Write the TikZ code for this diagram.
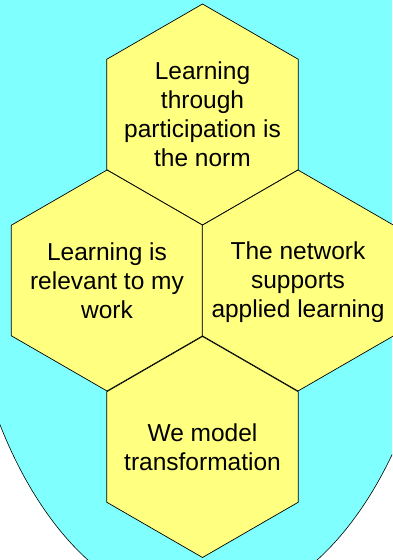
\documentclass[tikz,border=0pt]{standalone}
\usepackage{fontspec}
\setmainfont{Liberation Sans}
\usetikzlibrary{shapes.geometric}
\definecolor{bgcyan}{HTML}{80FFFF}
\definecolor{hexyellow}{HTML}{FFFF80}
\tikzset{
  hexcell/.style={regular polygon, regular polygon sides=6, shape border rotate=30,
    minimum size=221pt, inner sep=0pt, outer sep=0pt, fill=hexyellow, draw=black, line width=0.7pt},
  hextext/.style={align=center, inner sep=0pt, font=\fontsize{24.5}{29}\selectfont}
}
\begin{document}
\begin{tikzpicture}[x=1pt,y=1pt]
  \useasboundingbox (0,0) rectangle (392,560);
  \begin{scope}
    \clip (0,0) rectangle (392,560);
    \filldraw[fill=bgcyan, draw=black, line width=0.6pt] (202.5,362.5) ellipse [x radius=243pt, y radius=411pt];
  \end{scope}
  \node[hexcell] (top) at (202.5,445.5) {};
  \node[hexcell] (left) at (107,279.5) {};
  \node[hexcell] (right) at (298,279.5) {};
  \node[hexcell] (bottom) at (202.5,113) {};
  \node[hextext] (ttop) at (top.center) {Learning\\through\\participation is\\the norm};
  \node[hextext] (tleft) at (left.center) {Learning is\\relevant to my\\work};
  \node[hextext] (tright) at ([yshift=-2pt]right.center) {The network\\supports\\applied learning};
  \node[hextext] (tbottom) at (bottom.center) {We model\\transformation};
\end{tikzpicture}
\end{document}
